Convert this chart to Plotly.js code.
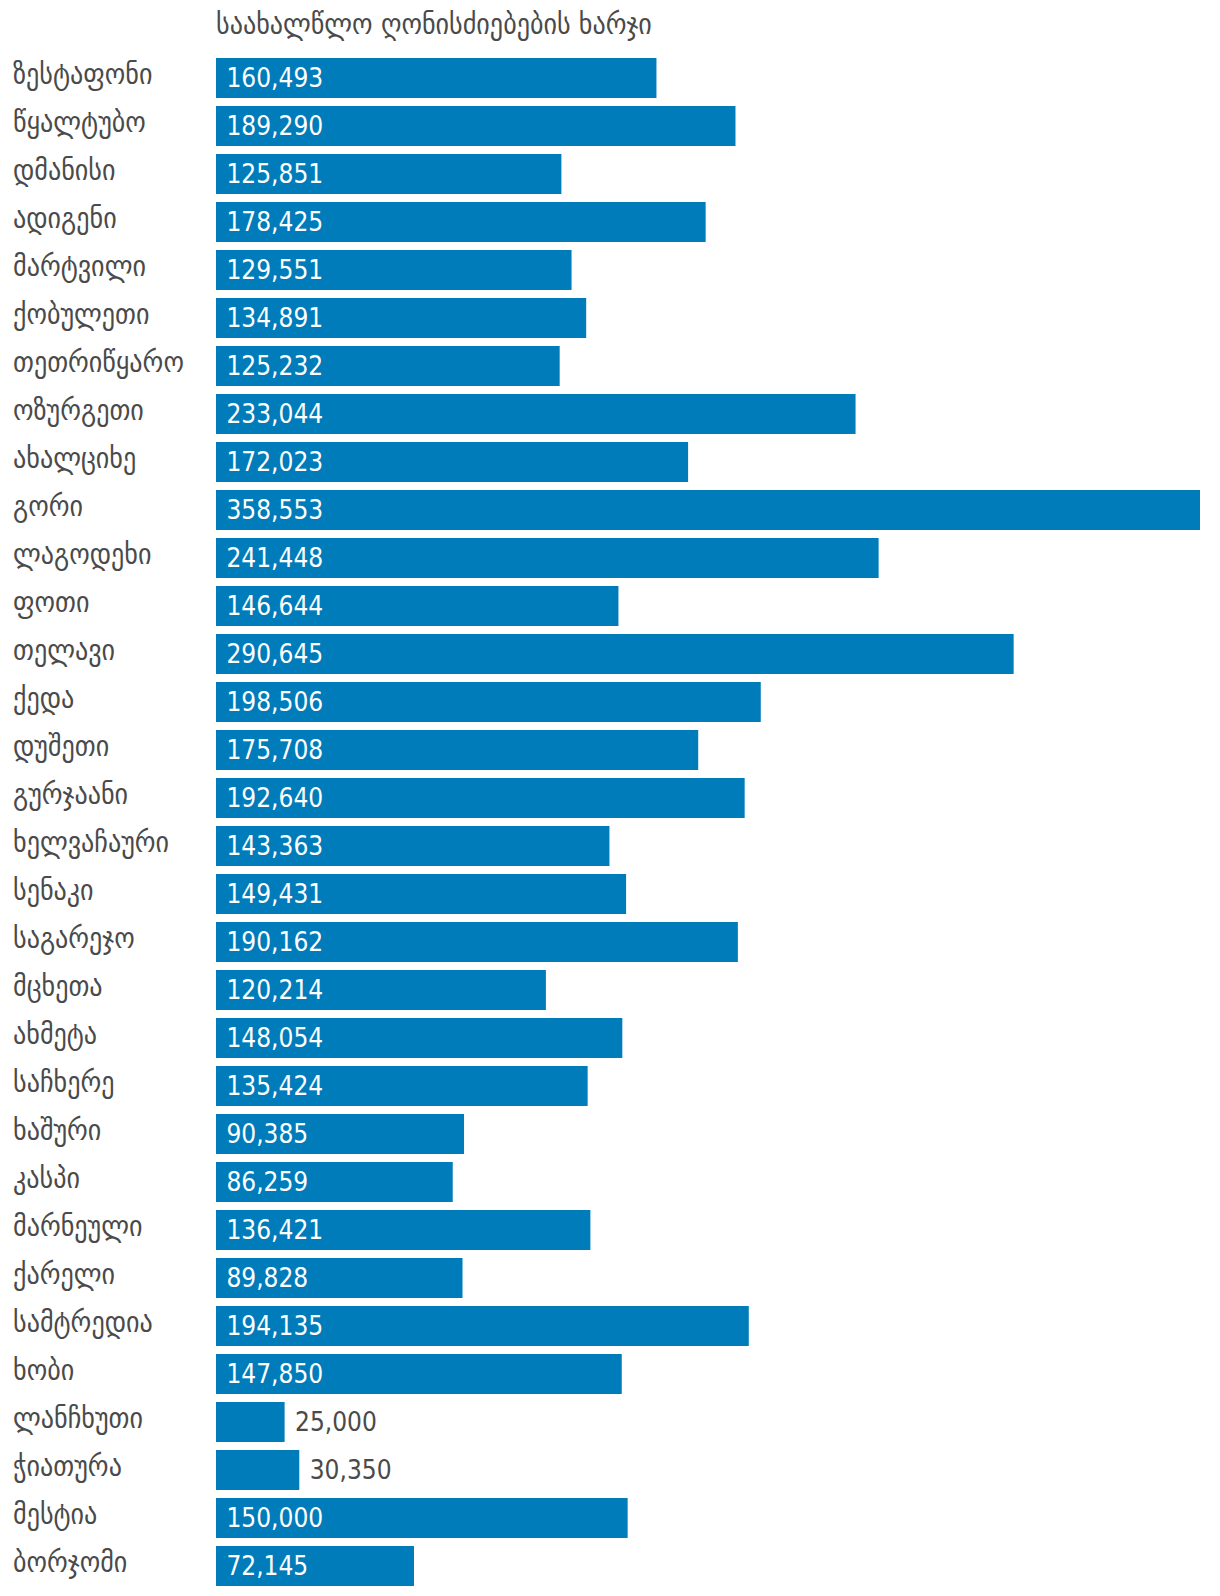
<!DOCTYPE html>
<html>
<head>
<meta charset="utf-8">
<script src="https://cdn.plot.ly/plotly-3.0.1.min.js"></script>
<style>html,body{margin:0;padding:0;background:#fff;}#chart{width:1220px;height:1596px;}</style>
</head>
<body>
<div id="chart"></div>
<script>
const chartTitle = "საახალწლო ღონისძიებების ხარჯი";
const municipalities = [
  "ზესტაფონი","წყალტუბო","დმანისი","ადიგენი","მარტვილი","ქობულეთი","თეთრიწყარო","ოზურგეთი",
  "ახალციხე","გორი","ლაგოდეხი","ფოთი","თელავი","ქედა","დუშეთი","გურჯაანი",
  "ხელვაჩაური","სენაკი","საგარეჯო","მცხეთა","ახმეტა","საჩხერე","ხაშური","კასპი",
  "მარნეული","ქარელი","სამტრედია","ხობი","ლანჩხუთი","ჭიათურა","მესტია","ბორჯომი"
];
const costs = [
  160493,189290,125851,178425,129551,134891,125232,233044,
  172023,358553,241448,146644,290645,198506,175708,192640,
  143363,149431,190162,120214,148054,135424,90385,86259,
  136421,89828,194135,147850,25000,30350,150000,72145
];

const FONT = '"DejaVu Sans Condensed", "DejaVu Sans", sans-serif';
const TEXTC = '#4a4a4a';
const L = 216, R = 20, W = 1220;
const plotW = W - L - R;

const labelAnnots = municipalities.map(m => ({
  text: m, x: (11 - L) / plotW, xref: 'paper', xanchor: 'left',
  y: m, yref: 'y', yanchor: 'middle', yshift: 4, showarrow: false,
  font: {family: FONT, size: 29, color: TEXTC}
}));

Plotly.newPlot('chart', [{
  type: 'bar', orientation: 'h',
  x: costs, y: municipalities,
  marker: {color: '#007cba'},
  texttemplate: '\u00a0%{x:,}',
  textposition: 'auto',
  insidetextanchor: 'start',
  constraintext: 'none',
  cliponaxis: false,
  insidetextfont: {family: FONT, size: 26, color: '#ffffff'},
  outsidetextfont: {family: FONT, size: 26, color: TEXTC},
  hoverinfo: 'none'
}], {
  width: 1220, height: 1596,
  margin: {l: L, r: R, t: 54, b: 6, pad: 0},
  paper_bgcolor: '#ffffff', plot_bgcolor: '#ffffff',
  bargap: 8/48,
  showlegend: false,
  title: {text: chartTitle, x: 0, xanchor: 'left', xref: 'paper', y: 1 - 24/1596, yanchor: 'middle', yref: 'container',
          font: {family: FONT, size: 29, color: TEXTC}},
  xaxis: {range: [0, 358553], visible: false, fixedrange: true},
  yaxis: {autorange: 'reversed', showticklabels: false, showgrid: false, zeroline: false, showline: false, ticks: '', fixedrange: true},
  annotations: labelAnnots
}, {displayModeBar: false, staticPlot: true});
</script>
</body>
</html>
